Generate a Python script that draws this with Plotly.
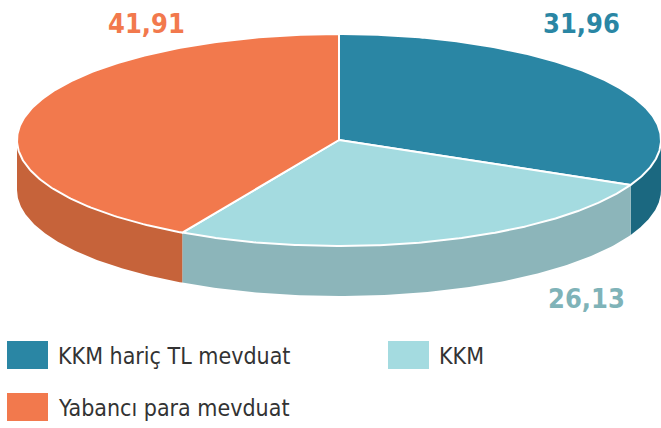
import numpy as np
import plotly.graph_objects as go

categories = ["KKM hariç TL mevduat", "KKM", "Yabancı para mevduat"]
values = [31.96, 26.13, 41.91]
value_labels = ["31,96", "26,13", "41,91"]
top_colors = ["#2A86A4", "#A4DBE0", "#F2794D"]
side_colors = ["#1B6880", "#8CB5BA", "#C6633A"]
label_colors = ["#2A86A4", "#7FB3B8", "#F2794D"]

# geometry (pixel space of the figure)
CX, CY, RX, RY, DEPTH = 339, 140, 322, 106, 50
W, H = 661, 428
FONT = "DejaVu Sans Condensed, DejaVu Sans, sans-serif"


def ell(theta_deg, dy=0.0):
    t = np.radians(theta_deg)
    return CX + RX * np.sin(t), CY - RY * np.cos(t) + dy


fig = go.Figure()

total = sum(values)
bounds = np.concatenate([[0], np.cumsum(values) / total * 360.0])

# sides (front half only: 90..270 degrees clockwise from top)
for i in range(len(values)):
    a0, a1 = max(bounds[i], 90), min(bounds[i + 1], 270)
    if a1 <= a0:
        continue
    th = np.linspace(a0, a1, 120)
    xt, yt = ell(th)
    xb, yb = ell(th[::-1], DEPTH)
    fig.add_trace(go.Scatter(
        x=np.concatenate([xt, xb]), y=np.concatenate([yt, yb]),
        fill="toself", fillcolor=side_colors[i], mode="lines",
        line=dict(width=0), hoverinfo="skip", showlegend=False))

# top faces
for i in range(len(values)):
    th = np.linspace(bounds[i], bounds[i + 1], 200)
    xt, yt = ell(th)
    fig.add_trace(go.Scatter(
        x=np.concatenate([[CX], xt, [CX]]), y=np.concatenate([[CY], yt, [CY]]),
        fill="toself", fillcolor=top_colors[i], mode="lines",
        line=dict(width=2, color="white"), hoverinfo="skip",
        showlegend=False, name=categories[i]))

# value labels
label_pos = [(581, 23), (586, 298), (146, 23)]
for i, (lx, ly) in enumerate(label_pos):
    fig.add_annotation(x=lx, y=ly, xref="x", yref="y", text=value_labels[i],
                       showarrow=False,
                       font=dict(size=27, color=label_colors[i], family=FONT,
                                 weight="bold"))

# legend
legend_pos = [(7, 341), (388, 341), (7, 393)]
for i, (lx, ly) in enumerate(legend_pos):
    fig.add_shape(type="rect", xref="x", yref="y", x0=lx, x1=lx + 41, y0=ly, y1=ly + 28,
                  fillcolor=top_colors[i], line=dict(width=0))
    fig.add_annotation(x=lx + 49, y=ly + 15, xref="x", yref="y", text=categories[i],
                       showarrow=False, xanchor="left", yanchor="middle",
                       font=dict(size=23, color="#333333", family=FONT))

fig.update_layout(
    width=W, height=H, margin=dict(l=0, r=0, t=0, b=0),
    paper_bgcolor="white", plot_bgcolor="white", showlegend=False,
    xaxis=dict(range=[0, W], visible=False, fixedrange=True),
    yaxis=dict(range=[H, 0], visible=False, fixedrange=True),
)

fig.write_html("out.html", config={"displayModeBar": False, "staticPlot": True},
               post_script="document.body.style.margin='0';document.body.style.overflow='hidden';")
